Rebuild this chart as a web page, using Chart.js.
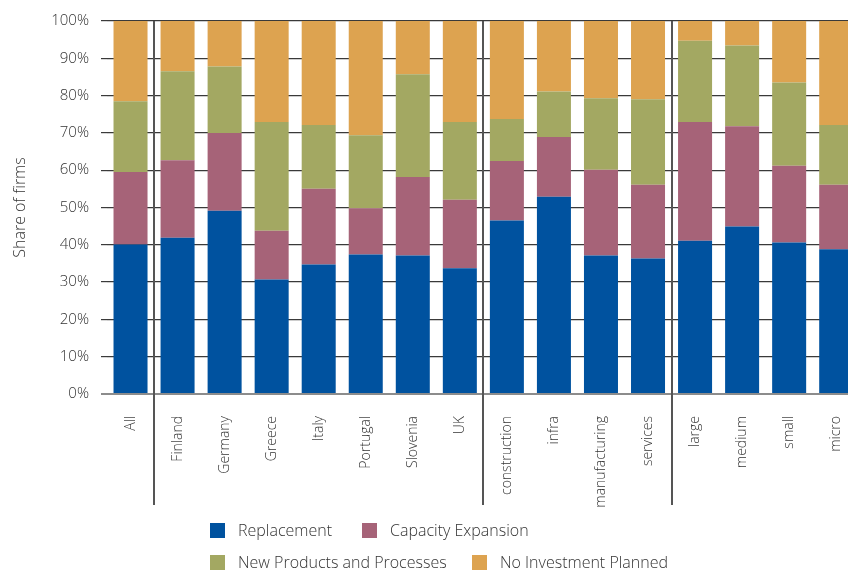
<!DOCTYPE html>
<html>
<head>
<meta charset="utf-8">
<script src="https://cdn.jsdelivr.net/npm/chart.js@4.4.1/dist/chart.umd.min.js"></script>
<style>
  html, body { margin: 0; padding: 0; background: #fff; overflow: hidden; width: 848px; height: 571px; }
  #wrap { position: relative; width: 867px; height: 571px; }
  #legend { position: absolute; left: 0; top: 0; width: 848px; height: 571px; pointer-events: none;
            font-family: "Open Sans", "Noto Sans", sans-serif; font-weight: 300; font-size: 16px; color: #333; }
  .li { position: absolute; display: flex; align-items: center; white-space: nowrap; }
  .sw { width: 15px; height: 15px; margin-right: 13px; display: inline-block; }
</style>
</head>
<body>
<div id="wrap"><canvas id="c" width="867" height="571"></canvas></div>
<div id="legend"></div>
<script>
const categories = ["All","Finland","Germany","Greece","Italy","Portugal","Slovenia","UK",
  "construction","infra","manufacturing","services","large","medium","small","micro"];
const replacement = [40.1,41.9,49.1,30.7,34.7,37.4,37.1,33.7,46.5,52.9,37.1,36.3,41.1,44.9,40.6,38.8];
const capacityExpansion = [19.4,20.8,20.9,13.1,20.3,12.4,21.1,18.4,16.0,16.0,23.0,19.8,31.8,26.9,20.6,17.3];
const newProducts = [19.0,23.8,17.8,29.1,17.1,19.6,27.5,20.8,11.2,12.2,19.2,22.9,21.8,21.6,22.3,16.0];
const noInvestment = [21.5,13.5,12.2,27.1,27.9,30.6,14.3,27.1,26.3,18.9,20.7,21.0,5.3,6.6,16.5,27.9];
const yTicks = [0,10,20,30,40,50,60,70,80,90,100];
const groupBreaksAfter = ["All","UK","services"];

const seriesNames = ["Replacement","Capacity Expansion","New Products and Processes","No Investment Planned"];
const seriesColors = ["#00529F","#A66378","#A3A862","#DDA350"];
const seriesData = [replacement, capacityExpansion, newProducts, noInvestment];

const separatorPlugin = {
  id: 'separators',
  afterDatasetsDraw(chart) {
    const x = chart.scales.x, ctx = chart.ctx;
    ctx.save();
    ctx.strokeStyle = '#555';
    ctx.lineWidth = 2;
    groupBreaksAfter.forEach(name => {
      const i = categories.indexOf(name);
      const px = (x.getPixelForValue(i) + x.getPixelForValue(i + 1)) / 2;
      ctx.beginPath();
      ctx.moveTo(Math.round(px), chart.chartArea.top);
      ctx.lineTo(Math.round(px), 505);
      ctx.stroke();
    });
    ctx.restore();
  }
};

const font = { family: '"Open Sans", "Noto Sans", sans-serif', weight: 300 };

new Chart(document.getElementById('c'), {
  type: 'bar',
  data: {
    labels: categories,
    datasets: seriesData.map((d, k) => ({
      label: seriesNames[k], data: d, backgroundColor: seriesColors[k],
      borderWidth: 0, categoryPercentage: 1.0, barPercentage: 0.723
    }))
  },
  options: {
    responsive: false,
    animation: false,
    layout: { padding: { top: 20, left: 0, right: 0, bottom: 0 } },
    plugins: { legend: { display: false }, tooltip: { enabled: false } },
    scales: {
      x: {
        stacked: true,
        grid: { display: false },
        border: { display: false },
        ticks: { minRotation: 90, maxRotation: 90, padding: 14, color: '#333',
                 font: { ...font, size: 14 } },
        afterFit(s) { s.height = 177; }
      },
      y: {
        stacked: true, min: 0, max: 100,
        afterBuildTicks(s) { s.ticks = yTicks.map(v => ({ value: v })); },
        grid: { color: c => c.tick && c.tick.value === 0 ? '#8c8c8c' : '#3a3a3a',
                lineWidth: c => c.tick && c.tick.value === 0 ? 2 : 1.2,
                tickLength: 6, drawTicks: true },
        border: { display: false },
        ticks: { color: '#333', padding: 12, font: { ...font, size: 15 }, callback: v => v + '%' },
        title: { display: true, text: 'Share of firms', color: '#333', font: { ...font, size: 16 }, padding: { top: 11, bottom: 6 } },
        afterFit(s) { s.width = 107; }
      }
    }
  },
  plugins: [separatorPlugin]
});

// HTML legend
const legendPos = [[210, 522], [362, 522], [210, 554], [472, 554]];
const lg = document.getElementById('legend');
seriesNames.forEach((n, k) => {
  const d = document.createElement('div');
  d.className = 'li';
  d.style.left = legendPos[k][0] + 'px';
  d.style.top = (legendPos[k][1] - 3) + 'px';
  d.innerHTML = '<span class="sw" style="background:' + seriesColors[k] + '"></span><span>' + n + '</span>';
  lg.appendChild(d);
});
</script>
</body>
</html>
